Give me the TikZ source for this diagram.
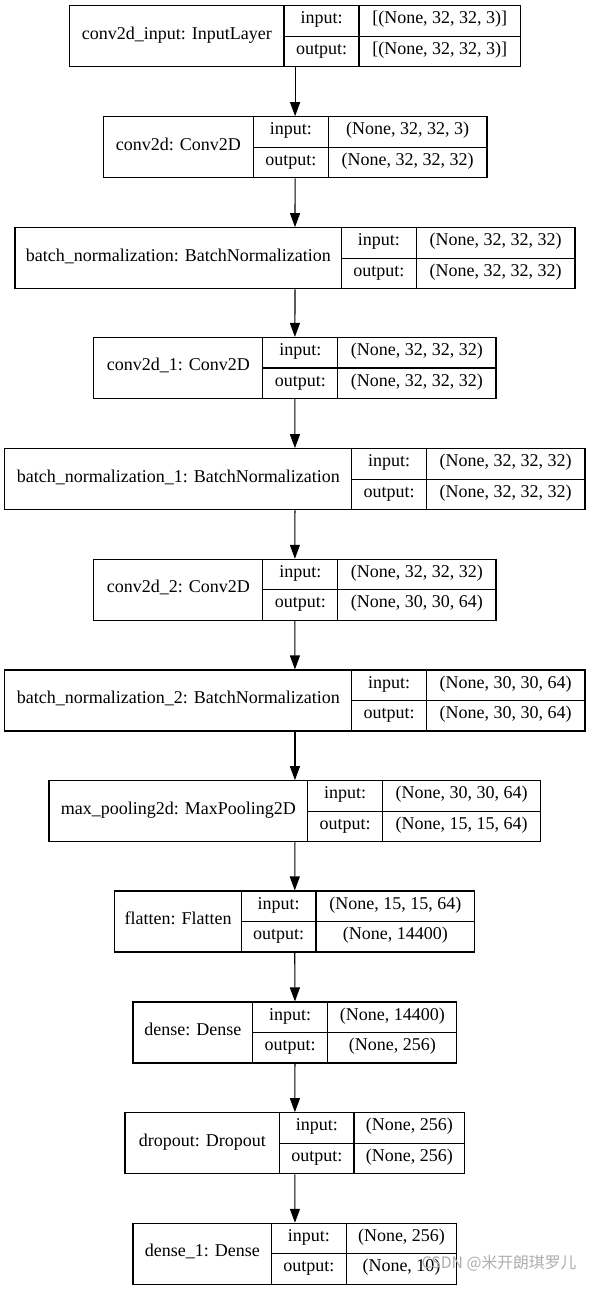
\documentclass[tikz,border=0pt]{standalone}
\usepackage{fontspec}
\setmainfont{Liberation Serif}
\newfontfamily\cjkfont{Noto Sans CJK SC}
\usetikzlibrary{arrows.meta}
\tikzset{
  layerbox/.style={draw, line width=1.1pt, inner sep=0pt, rectangle},
  divline/.style={line width=1.1pt},
  celltext/.style={inner sep=0pt, text height=0.72em, text depth=0.14em, font=\fontsize{18}{20}\selectfont},
  flow/.style={line width=1.1pt, -{Triangle[width=10pt,length=14pt]}},
  wmark/.style={text=black!32, inner sep=0pt, anchor=west, font=\cjkfont\fontsize{15.8}{16}\selectfont}
}
% #1 name, #2 xl, #3 xd1, #4 xd2, #5 xr, #6 ytop, #7 label, #8 input, #9 output
\newcommand\nnlayer[9]{%
  \node[layerbox, minimum width={(#5-#2)*1pt}, minimum height=61pt] (#1) at ({(#2+#5)/2},{#6+30.5}) {};
  \draw[divline] (#3,#6) -- (#3,{#6+61});
  \draw[divline] (#4,#6) -- (#4,{#6+61});
  \draw[divline] (#3,{#6+30.5}) -- (#5,{#6+30.5});
  \node[celltext] (#1-lab) at ({(#2+#3)/2},{#6+30.5}) {#7};
  \node[celltext] (#1-ik) at ({(#3+#4)/2},{#6+15.25}) {input:};
  \node[celltext] (#1-ok) at ({(#3+#4)/2},{#6+45.75}) {output:};
  \node[celltext] (#1-iv) at ({(#4+#5)/2},{#6+15.25}) {#8};
  \node[celltext] (#1-ov) at ({(#4+#5)/2},{#6+45.75}) {#9};
}
\begin{document}
\begin{tikzpicture}[x=1pt,y=-1pt]
\fill[white] (0,0) rectangle (591,1291);
\useasboundingbox (0,0) rectangle (591,1291);
\nnlayer{L1}{69.7}{284}{359}{520.5}{5.7}{conv2d\_input: InputLayer}{[(None, 32, 32, 3)]}{[(None, 32, 32, 3)]}
\nnlayer{L2}{103.2}{253.5}{328.4}{487}{116.7}{conv2d: Conv2D}{(None, 32, 32, 3)}{(None, 32, 32, 32)}
\nnlayer{L3}{15}{341.6}{416.2}{575}{227.7}{batch\_normalization: BatchNormalization}{(None, 32, 32, 32)}{(None, 32, 32, 32)}
\nnlayer{L4}{93.8}{262.9}{337.9}{496}{337.5}{conv2d\_1: Conv2D}{(None, 32, 32, 32)}{(None, 32, 32, 32)}
\nnlayer{L5}{4.9}{351.8}{426.4}{585}{448.7}{batch\_normalization\_1: BatchNormalization}{(None, 32, 32, 32)}{(None, 32, 32, 32)}
\nnlayer{L6}{93.8}{262.9}{337.9}{496}{559.3}{conv2d\_2: Conv2D}{(None, 32, 32, 32)}{(None, 30, 30, 64)}
\nnlayer{L7}{4.9}{351.8}{426.4}{585}{670}{batch\_normalization\_2: BatchNormalization}{(None, 30, 30, 64)}{(None, 30, 30, 64)}
\nnlayer{L8}{49}{307.7}{382.3}{540.9}{780.7}{max\_pooling2d: MaxPooling2D}{(None, 30, 30, 64)}{(None, 15, 15, 64)}
\nnlayer{L9}{114.9}{241.4}{316}{474.6}{891}{flatten: Flatten}{(None, 15, 15, 64)}{(None, 14400)}
\nnlayer{L10}{133}{252.7}{327.7}{456.9}{1002}{dense: Dense}{(None, 14400)}{(None, 256)}
\nnlayer{L11}{125}{279.8}{354}{464.8}{1112.7}{dropout: Dropout}{(None, 256)}{(None, 256)}
\nnlayer{L12}{133}{271.6}{346.1}{456.9}{1223.3}{dense\_1: Dense}{(None, 256)}{(None, 10)}
\foreach \a/\b in {L1/L2,L2/L3,L3/L4,L4/L5,L5/L6,L6/L7,L7/L8,L8/L9,L9/L10,L10/L11,L11/L12}
  \draw[flow] (\a.south) -- (\b.north);
\node[wmark] (wm) at (421.5,1263.5) {CSDN @米开朗琪罗儿};
\end{tikzpicture}
\end{document}
